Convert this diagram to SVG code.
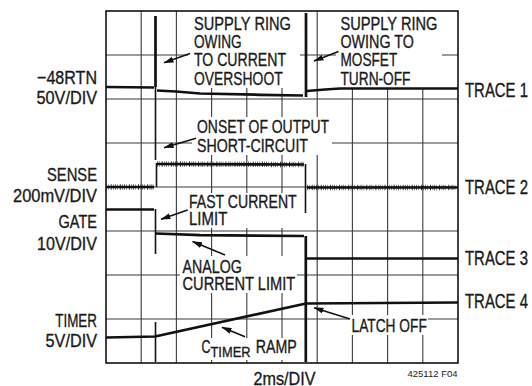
<svg xmlns="http://www.w3.org/2000/svg" width="532" height="386" viewBox="0 0 532 386">
<defs>
<style>
text{font-family:"Liberation Sans",Arial,sans-serif;fill:#1a1a1a}
.ax,.ax2,.tr,.an{stroke:#1a1a1a;stroke-width:0.35}
.ax{font-size:18.8px;text-anchor:end}
.ax2{font-size:18.8px}
.tr{font-size:19.5px}
.an{font-size:18.5px}
.sm{font-size:9.3px;text-anchor:end}
.grid line{stroke:#3a3a3a;stroke-width:1.1}
.mask rect{fill:#fff}
.tc{fill:none;stroke:#111;stroke-width:2.7;stroke-linejoin:round}
.sp{fill:none;stroke:#111;stroke-width:1.6}
.nz{fill:none;stroke:#333;stroke-width:5.5;stroke-dasharray:0.7 1.4 0.5 2.1 1 1.6 0.6 1.2}
.arr{stroke:#111;stroke-width:1.5;fill:none;marker-end:url(#ah)}
</style>
<marker id="ah" viewBox="0 0 10 6" refX="9.5" refY="3" markerWidth="10" markerHeight="6" markerUnits="userSpaceOnUse" orient="auto">
<path d="M0,0 L10,3 L0,6 z" fill="#111"/>
</marker>
</defs>
<rect width="532" height="386" fill="#fff"/>
<g id="grid" class="grid">
<line x1="141.2" y1="11" x2="141.2" y2="363"/>
<line x1="176.4" y1="11" x2="176.4" y2="363"/>
<line x1="211.6" y1="11" x2="211.6" y2="363"/>
<line x1="246.8" y1="11" x2="246.8" y2="363"/>
<line x1="282" y1="11" x2="282" y2="363"/>
<line x1="317.2" y1="11" x2="317.2" y2="363"/>
<line x1="352.4" y1="11" x2="352.4" y2="363"/>
<line x1="387.6" y1="11" x2="387.6" y2="363"/>
<line x1="422.8" y1="11" x2="422.8" y2="363"/>
<line x1="106" y1="55" x2="458" y2="55"/>
<line x1="106" y1="99" x2="458" y2="99"/>
<line x1="106" y1="143" x2="458" y2="143"/>
<line x1="106" y1="187" x2="458" y2="187"/>
<line x1="106" y1="231" x2="458" y2="231"/>
<line x1="106" y1="275" x2="458" y2="275"/>
<line x1="106" y1="319" x2="458" y2="319"/>
</g>
<g id="text-backgrounds" class="mask">
<rect x="188" y="12" width="112" height="76"/>
<rect x="336" y="12" width="106" height="76"/>
<rect x="192" y="117" width="140" height="38"/>
<rect x="185" y="193" width="101" height="35"/>
<rect x="180" y="256" width="117" height="37"/>
<rect x="198" y="338" width="101" height="22"/>
<rect x="349" y="315" width="79" height="20"/>
</g>
<rect id="frame" x="106" y="11" width="352" height="352" fill="none" stroke="#111" stroke-width="1.6"/>
<g id="traces">
<g id="trace1">
<path class="tc" d="M106,87 L154,87.5"/>
<path class="tc" d="M155.5,16 V87"/>
<path class="sp" d="M155.5,87 V160"/>
<path class="tc" d="M157,90.5 L176,91.5 L200,93.5 L260,94.8 L303,95.5"/>
<path class="tc" d="M306,13 V97"/>
<path class="tc" d="M307,91 L325,89.5 L340,88.5 L458,88.5"/>
</g>
<g id="trace2">
<path class="nz" d="M106,187 L154,187"/>
<path class="tc" d="M106,187 L154,187"/>
<path class="sp" d="M156.5,187 V163"/>
<path class="nz" d="M157,164 L304,164.5"/>
<path class="tc" d="M157,164 L304,164.5"/>
<path class="sp" d="M305.5,164 V213"/>
<path class="nz" d="M307,187.5 L458,187.5"/>
<path class="tc" d="M307,187.5 L458,187.5"/>
</g>
<g id="trace3">
<path class="tc" d="M106,209.5 L154,209.5"/>
<path class="sp" d="M155.5,209 V254"/>
<path class="tc" d="M156,233.5 L200,235.2 L304,236"/>
<path class="tc" d="M305.8,236 V362"/>
<path class="tc" d="M307,258.5 L458,258.5"/>
</g>
<g id="trace4">
<path class="tc" d="M106,337.5 L155,336.5 L306,303.5 L458,302.5"/>
<path class="sp" d="M155.5,322 V362"/>
</g>
</g>
<g id="connectors">
<line class="arr" x1="190" y1="53.5" x2="164" y2="62.8"/>
<line class="arr" x1="338.5" y1="51.5" x2="314" y2="61"/>
<line class="arr" x1="196" y1="138.3" x2="164" y2="147.7"/>
<line class="arr" x1="187.7" y1="210" x2="161" y2="219.3"/>
<line class="arr" x1="225" y1="255" x2="192.5" y2="241.5"/>
<line class="arr" x1="245" y1="336.7" x2="222" y2="327.3"/>
<line class="arr" x1="350" y1="319" x2="314" y2="307.7"/>
</g>
<g id="axis-labels">
<text class="ax" x="97" y="83.5" textLength="60" lengthAdjust="spacingAndGlyphs">−48RTN</text>
<text class="ax" x="97" y="103.5" textLength="60.5" lengthAdjust="spacingAndGlyphs">50V/DIV</text>
<text class="ax" x="97" y="181" textLength="50" lengthAdjust="spacingAndGlyphs">SENSE</text>
<text class="ax" x="97" y="201.5" textLength="84" lengthAdjust="spacingAndGlyphs">200mV/DIV</text>
<text class="ax" x="97" y="228" textLength="38.4" lengthAdjust="spacingAndGlyphs">GATE</text>
<text class="ax" x="97" y="250" textLength="60" lengthAdjust="spacingAndGlyphs">10V/DIV</text>
<text class="ax" x="97" y="327" textLength="41.7" lengthAdjust="spacingAndGlyphs">TIMER</text>
<text class="ax" x="97" y="347" textLength="51.5" lengthAdjust="spacingAndGlyphs">5V/DIV</text>
<text class="ax2" x="253.5" y="384.5" textLength="62" lengthAdjust="spacingAndGlyphs">2ms/DIV</text>
<text class="sm" x="457.5" y="377" textLength="50" lengthAdjust="spacingAndGlyphs">425112 F04</text>
</g>
<g id="trace-labels">
<text class="tr" x="465" y="96.5" textLength="63" lengthAdjust="spacingAndGlyphs">TRACE 1</text>
<text class="tr" x="465" y="194" textLength="63" lengthAdjust="spacingAndGlyphs">TRACE 2</text>
<text class="tr" x="465" y="265" textLength="63" lengthAdjust="spacingAndGlyphs">TRACE 3</text>
<text class="tr" x="465" y="308" textLength="63" lengthAdjust="spacingAndGlyphs">TRACE 4</text>
</g>
<g id="annotations">
<g id="note-ring1">
<text class="an" x="194" y="29.5" textLength="97" lengthAdjust="spacingAndGlyphs">SUPPLY RING</text>
<text class="an" x="194" y="47.5" textLength="47.7" lengthAdjust="spacingAndGlyphs">OWING</text>
<text class="an" x="194" y="66" textLength="92" lengthAdjust="spacingAndGlyphs">TO CURRENT</text>
<text class="an" x="194" y="85" textLength="88.7" lengthAdjust="spacingAndGlyphs">OVERSHOOT</text>
</g>
<g id="note-ring2">
<text class="an" x="340.5" y="29.5" textLength="97" lengthAdjust="spacingAndGlyphs">SUPPLY RING</text>
<text class="an" x="340.5" y="47.5" textLength="73.3" lengthAdjust="spacingAndGlyphs">OWING TO</text>
<text class="an" x="340.5" y="66" textLength="56.7" lengthAdjust="spacingAndGlyphs">MOSFET</text>
<text class="an" x="340.5" y="85" textLength="70" lengthAdjust="spacingAndGlyphs">TURN-OFF</text>
</g>
<g id="note-onset">
<text class="an" x="197" y="133" textLength="132" lengthAdjust="spacingAndGlyphs">ONSET OF OUTPUT</text>
<text class="an" x="197" y="151.5" textLength="111" lengthAdjust="spacingAndGlyphs">SHORT-CIRCUIT</text>
</g>
<g id="note-fast">
<text class="an" x="189" y="207.5" textLength="107.7" lengthAdjust="spacingAndGlyphs">FAST CURRENT</text>
<text class="an" x="189" y="225" textLength="38.3" lengthAdjust="spacingAndGlyphs">LIMIT</text>
</g>
<g id="note-analog">
<text class="an" x="182.5" y="272.5" textLength="59.3" lengthAdjust="spacingAndGlyphs">ANALOG</text>
<text class="an" x="182.5" y="290" textLength="112.7" lengthAdjust="spacingAndGlyphs">CURRENT LIMIT</text>
</g>
<g id="note-ramp">
<text class="an" y="353"><tspan x="201.5" textLength="9" lengthAdjust="spacingAndGlyphs">C</tspan><tspan x="210.5" dy="3.5" font-size="14.5" textLength="40" lengthAdjust="spacingAndGlyphs">TIMER</tspan><tspan x="255.7" dy="-3.5" textLength="41" lengthAdjust="spacingAndGlyphs">RAMP</tspan></text>
</g>
<g id="note-latch">
<text class="an" x="351.5" y="331.5" textLength="75.3" lengthAdjust="spacingAndGlyphs">LATCH OFF</text>
</g>
</g>
</svg>
